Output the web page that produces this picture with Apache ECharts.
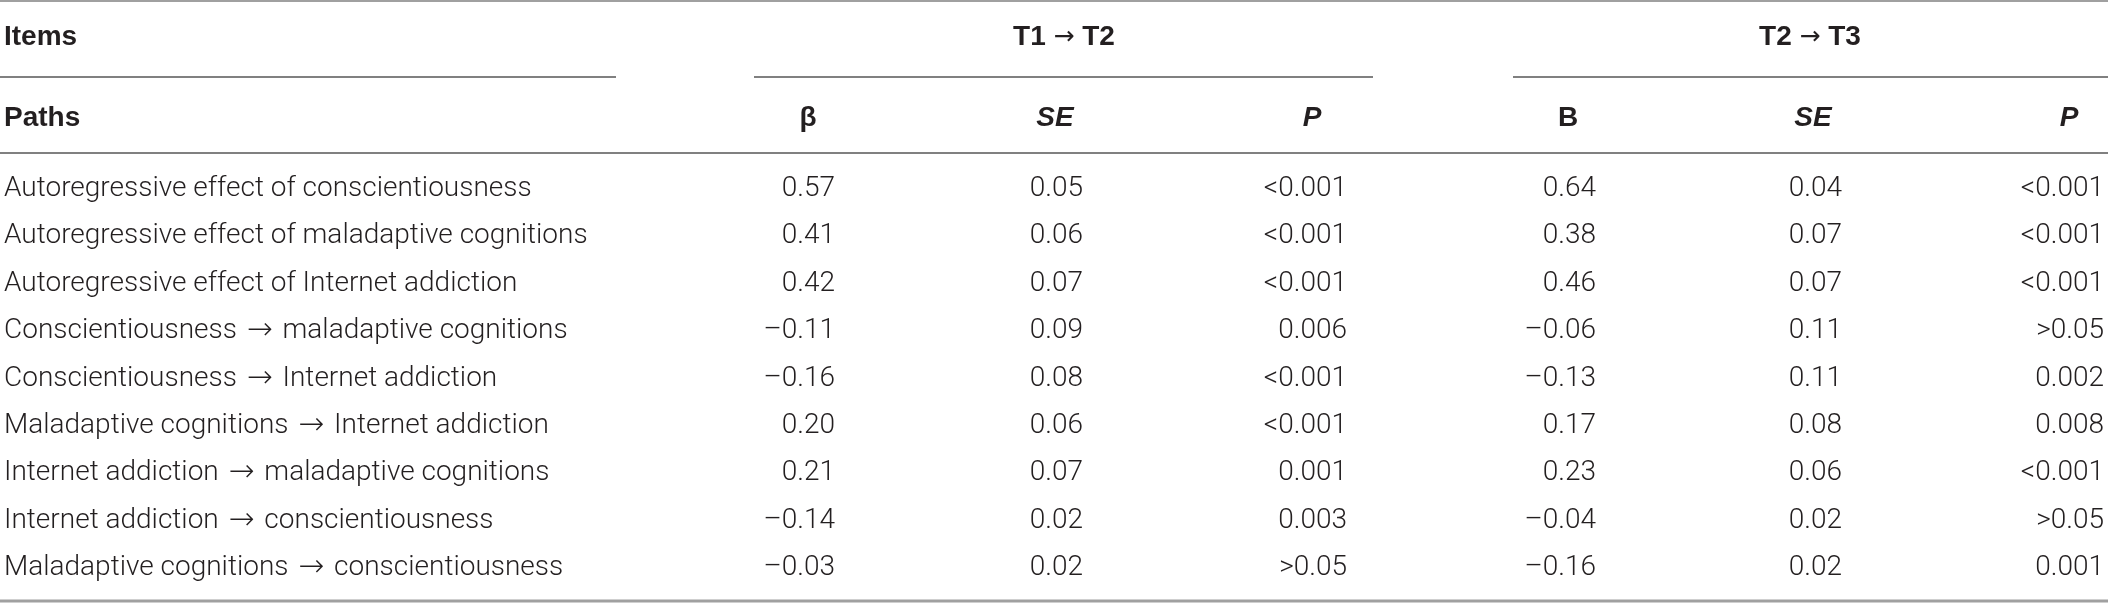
<!DOCTYPE html>
<html><head><meta charset="utf-8">
<script src="https://cdn.jsdelivr.net/npm/echarts@6/dist/echarts.min.js"></script>
<style>html,body{margin:0;padding:0;background:#fff}#c{width:2108px;height:604px}</style>
</head><body><div id="c"></div>
<script>
// ---- data ----
const paths = [
  'Autoregressive effect of conscientiousness',
  'Autoregressive effect of maladaptive cognitions',
  'Autoregressive effect of Internet addiction',
  'Conscientiousness \u2192 maladaptive cognitions',
  'Conscientiousness \u2192 Internet addiction',
  'Maladaptive cognitions \u2192 Internet addiction',
  'Internet addiction \u2192 maladaptive cognitions',
  'Internet addiction \u2192 conscientiousness',
  'Maladaptive cognitions \u2192 conscientiousness'
];
const beta12 = [0.57, 0.41, 0.42, -0.11, -0.16, 0.20, 0.21, -0.14, -0.03];
const se12   = [0.05, 0.06, 0.07, 0.09, 0.08, 0.06, 0.07, 0.02, 0.02];
const p12    = ['<0.001','<0.001','<0.001','0.006','<0.001','<0.001','0.001','0.003','>0.05'];
const b23    = [0.64, 0.38, 0.46, -0.06, -0.13, 0.17, 0.23, -0.04, -0.16];
const se23   = [0.04, 0.07, 0.07, 0.11, 0.11, 0.08, 0.06, 0.02, 0.02];
const p23    = ['<0.001','<0.001','<0.001','>0.05','0.002','0.008','<0.001','>0.05','0.001'];
const rowHeaders = ['Items', 'Paths'];
const groupHeaders = ['T1 \u2192 T2', 'T2 \u2192 T3'];
const colHeaders = ['\u03b2', 'SE', 'P', 'B', 'SE', 'P'];

// ---- layout (pixel units on hidden value axes) ----
const W = 2108, H = 604;
const ROW0 = 189, ROWH = 47.4;
const Y_ITEMS = 37, Y_PATHS = 118;
const COL_RIGHT = [835, 1083, 1347, 1596, 1842, 2104];
const COL_HEAD_CENTER = [808, 1055, 1312, 1568, 1813, 2069];
const GROUP_CENTER = [1064, 1810];
const TEXT = '#231f20';
const BODY_FONT = '300 28px Roboto, "Liberation Sans", sans-serif';
const HEAD_FONT = 'bold 28px "Liberation Sans Narrow", "Liberation Sans", Arial, sans-serif';
const HEAD_IT_FONT = 'italic bold 28px "Liberation Sans Narrow", "Liberation Sans", Arial, sans-serif';
const RICH = {
  b: { a: { fontFamily: 'DejaVu Sans', fontWeight: 200, fontSize: 31, padding: [0, 3, 0, 3], fill: TEXT, color: TEXT } },
  h: { a: { fontFamily: 'DejaVu Sans', fontWeight: 'normal', fontSize: 25, fill: TEXT, color: TEXT } },
  hi: {}
};

const fmt = v => (v < 0 ? '\u2013' : '') + Math.abs(v).toFixed(2);
const arrowRich = s => s.replace(/\u2192/g, '{a|\u2192}');

// build text cells: [x, y, text, align, fontKey]
const cells = [];
rowHeaders.forEach((t, i) => cells.push([4, i === 0 ? Y_ITEMS : Y_PATHS, t, 'left', 'h']));
groupHeaders.forEach((t, i) => cells.push([GROUP_CENTER[i], Y_ITEMS, t, 'center', 'h']));
colHeaders.forEach((t, i) => cells.push([COL_HEAD_CENTER[i], Y_PATHS, t, 'center', (t === 'SE' || t === 'P') ? 'hi' : 'h']));
const cols = [beta12.map(fmt), se12.map(fmt), p12, b23.map(fmt), se23.map(fmt), p23];
paths.forEach((p, r) => {
  const y = ROW0 + r * ROWH;
  cells.push([4, y, p, 'left', 'b']);
  cols.forEach((c, ci) => cells.push([COL_RIGHT[ci], y, c[r], 'right', 'b']));
});

// rules: [x1, x2, y, width, color]
const rules = [
  [0, W, 1, 2, '#a0a0a0'],
  [0, 616, 77, 2, '#808080'],
  [754, 1373, 77, 2, '#808080'],
  [1513, W, 77, 2, '#808080'],
  [0, W, 153, 2, '#808080'],
  [0, W, 601, 3, '#a0a0a0']
];

const fonts = { b: BODY_FONT, h: HEAD_FONT, hi: HEAD_IT_FONT };
const chart = echarts.init(document.getElementById('c'), null, { renderer: 'canvas' });
chart.setOption({
  backgroundColor: '#fff',
  animation: false,
  grid: { left: 0, right: 0, top: 0, bottom: 0 },
  xAxis: { type: 'value', min: 0, max: W, show: false },
  yAxis: { type: 'value', min: 0, max: H, inverse: true, show: false },
  series: [
    {
      type: 'custom',
      data: rules,
      renderItem: (params, api) => {
        const a = api.coord([api.value(0), api.value(2)]);
        const b = api.coord([api.value(1), api.value(2)]);
        const r = rules[params.dataIndex];
        return { type: 'line', shape: { x1: a[0], y1: a[1], x2: b[0], y2: b[1] },
                 style: { stroke: r[4], lineWidth: r[3] } };
      }
    },
    {
      type: 'custom',
      data: cells.map(c => [c[0], c[1]]),
      renderItem: (params, api) => {
        const c = cells[params.dataIndex];
        const p = api.coord([api.value(0), api.value(1)]);
        return { type: 'text', x: p[0], y: p[1],
                 style: { text: arrowRich(c[2]), rich: RICH[c[4]], font: fonts[c[4]], fill: TEXT,
                          align: c[3], verticalAlign: 'middle',
                          textAlign: c[3], textVerticalAlign: 'middle' } };
      }
    }
  ]
});
</script></body></html>
